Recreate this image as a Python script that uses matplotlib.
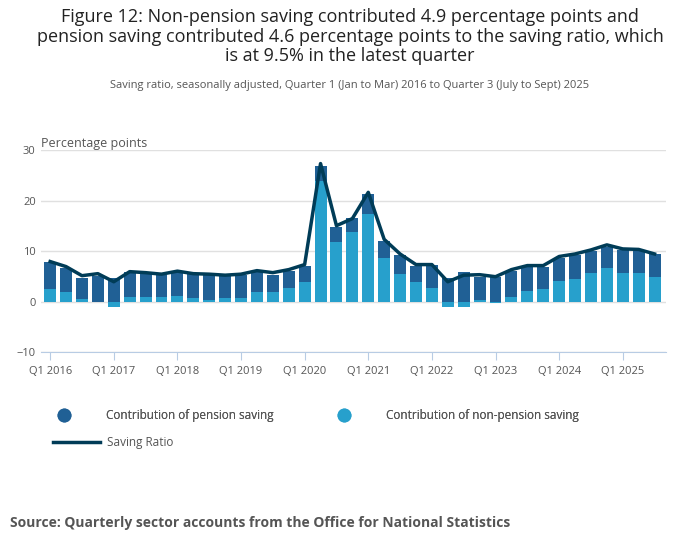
import matplotlib
matplotlib.use("Agg")
import matplotlib.pyplot as plt
from matplotlib.lines import Line2D

plt.rcParams['font.family'] = ['Open Sans', 'DejaVu Sans']

quarters = [f"Q{q} {y}" for y in range(2016, 2026) for q in range(1, 5)][:39]
non_pension = [2.6,1.9,0.5,0.0,-1.0,0.9,0.9,0.9,1.1,0.7,0.3,0.7,0.7,1.9,1.9,2.8,4.0,24.0,11.9,13.9,
               17.4,8.8,5.5,4.0,2.8,-1.0,-1.0,0.3,-0.2,0.9,2.1,2.6,4.2,4.6,5.7,6.7,5.7,5.7,4.9]
pension = [5.3,4.9,4.3,5.2,4.7,5.1,4.9,4.5,4.9,4.8,5.1,4.5,4.7,4.1,3.5,3.3,3.1,2.9,2.9,2.7,
           4.0,3.3,3.7,3.1,4.5,4.7,5.9,4.7,5.0,5.3,4.9,4.4,4.5,4.6,4.4,4.1,4.5,4.4,4.6]
saving_ratio = [8.0,7.0,5.2,5.6,4.0,6.0,5.8,5.5,6.1,5.6,5.5,5.3,5.5,6.2,5.8,6.4,7.4,27.4,15.1,16.5,
                21.7,12.4,9.5,7.4,7.4,4.0,5.3,5.4,5.0,6.4,7.2,7.2,9.0,9.5,10.3,11.3,10.5,10.4,9.5]

dark = "#206095"; light = "#27a0cc"; line_c = "#003c57"

fig = plt.figure(figsize=(7, 5.49), dpi=100)
ax = fig.add_axes([0.058, 0.358, 0.893, 0.368])
x = list(range(len(quarters)))
ax.bar(x, non_pension, width=0.75, color=light, zorder=2)
bottoms = [max(v, 0) for v in non_pension]
ax.bar(x, pension, width=0.75, bottom=bottoms, color=dark, zorder=2)
ax.plot(x, saving_ratio, color=line_c, lw=2.5, zorder=3)

ax.set_ylim(-10, 30)
ax.set_xlim(-0.6, len(x) - 0.3)
ax.set_yticks([-10, 0, 10, 20, 30])
ax.grid(axis='y', color='#e0e0e0', lw=1, zorder=0)
for s in ['top', 'right', 'left']:
    ax.spines[s].set_visible(False)
ax.spines['bottom'].set_position(('data', -10))
ax.spines['bottom'].set_color('#b8cce4')
ax.set_xticks(x[::4])
ax.set_xticklabels(quarters[::4])
ax.tick_params(axis='x', colors='#b8cce4', labelcolor='#555555', labelsize=8, length=6)
ax.tick_params(axis='y', length=0, labelsize=8, labelcolor='#555555')
ax.text(0, 1.0, "Percentage points", transform=ax.transAxes, fontsize=9, color='#555555',
        ha='left', va='bottom')

fig.text(0.5, 0.985, "Figure 12: Non-pension saving contributed 4.9 percentage points and\n"
         "pension saving contributed 4.6 percentage points to the saving ratio, which\n"
         "is at 9.5% in the latest quarter", ha='center', va='top', fontsize=13,
         color='#222222', linespacing=1.1)
fig.text(0.5, 0.855, "Saving ratio, seasonally adjusted, Quarter 1 (Jan to Mar) 2016 to Quarter 3 (July to Sept) 2025",
         ha='center', va='top', fontsize=8, color='#555555')

handles = [Line2D([], [], marker='o', ls='', color=dark, markersize=9),
           Line2D([], [], marker='o', ls='', color=light, markersize=9),
           Line2D([], [], color=line_c, lw=2.5)]
labels = ["Contribution of pension saving", "Contribution of non-pension saving", "Saving Ratio"]
l1 = fig.legend(handles[:2], labels[:2], loc='upper left', bbox_to_anchor=(0.06, 0.275), ncol=2,
                frameon=False, fontsize=8.5, labelcolor='#555555', columnspacing=5, handletextpad=2.5)
fig.legend(handles[2:], labels[2:], loc='upper left', bbox_to_anchor=(0.06, 0.225),
           frameon=False, fontsize=8.5, labelcolor='#555555', handlelength=4, handletextpad=0.6)
fig.add_artist(l1)

fig.text(0.014, 0.035, "Source: Quarterly sector accounts from the Office for National Statistics",
         fontsize=10, fontweight='bold', color='#555555', ha='left', va='bottom')
fig.savefig("out.png", dpi=100)
